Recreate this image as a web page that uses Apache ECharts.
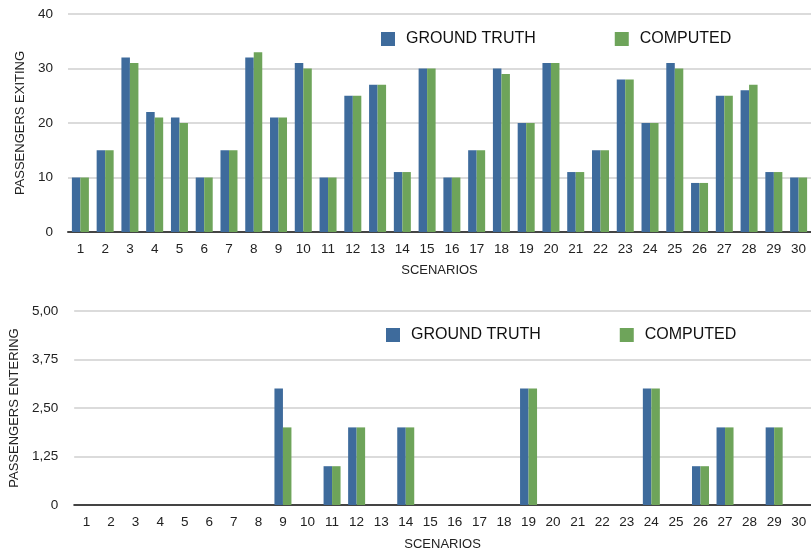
<!DOCTYPE html>
<html>
<head>
<meta charset="utf-8">
<script src="https://cdn.jsdelivr.net/npm/echarts@6/dist/echarts.min.js"></script>
<style>html,body{margin:0;padding:0;background:#fff;}#c{width:811px;height:552px;}</style>
</head>
<body>
<div id="c"></div>
<script>
const scenarios = ['1','2','3','4','5','6','7','8','9','10','11','12','13','14','15','16','17','18','19','20','21','22','23','24','25','26','27','28','29','30'];
const exitingTruth =    [10,15,32,22,21,10,15,32,21,31,10,25,27,11,30,10,15,30,20,31,11,15,28,20,31, 9,25,26,11,10];
const exitingComputed = [10,15,31,21,20,10,15,33,21,30,10,25,27,11,30,10,15,29,20,31,11,15,28,20,30, 9,25,27,11,10];
const enteringTruth =    [0,0,0,0,0,0,0,0,3,0,1,2,0,2,0,0,0,0,3,0,0,0,0,3,0,1,2,0,2,0];
const enteringComputed = [0,0,0,0,0,0,0,0,2,0,1,2,0,2,0,0,0,0,3,0,0,0,0,3,0,1,2,0,2,0];
const seriesNames = ['GROUND TRUTH','COMPUTED'];
const topTicks = [0,10,20,30,40];
const bottomTicks = ['0','1,25','2,50','3,75','5,00'];

const FONT = '"Liberation Sans", Arial, sans-serif';
const BLUE = '#3e6b9c';
const GREEN = '#6ea45a';

const chart = echarts.init(document.getElementById('c'));
const xAxisCommon = {
  type: 'category',
  data: scenarios,
  axisTick: {show: false},
  axisLine: {lineStyle: {color: '#444', width: 2}},
  axisLabel: {color: '#222', fontSize: 13.5, fontFamily: FONT, margin: 10, interval: 0},
  nameLocation: 'middle',
  nameTextStyle: {color: '#222', fontSize: 13, fontFamily: FONT}
};
const yAxisCommon = {
  type: 'value',
  min: 0,
  axisLine: {show: false},
  axisTick: {show: false},
  splitLine: {lineStyle: {color: '#cfcfcf', width: 1.5}},
  axisLabel: {color: '#222', fontSize: 13.5, fontFamily: FONT},
  nameLocation: 'middle',
  nameRotate: 90,
  nameTextStyle: {color: '#222', fontSize: 13, fontFamily: FONT}
};
const barCommon = {type: 'bar', barWidth: 8.5, barGap: '0%', animation: false};
const legendCommon = {
  itemWidth: 14, itemHeight: 14, itemGap: 79, icon: 'rect',
  textStyle: {color: '#111', fontSize: 16, fontFamily: FONT, padding: [0,0,0,6]},
  data: seriesNames, selectedMode: false
};

chart.setOption({
  animation: false,
  color: [BLUE, GREEN],
  legend: [
    Object.assign({left: 376, top: 26}, legendCommon),
    Object.assign({left: 381, top: 322}, legendCommon)
  ],
  grid: [
    {left: 68, top: 14, width: 744, height: 218},
    {left: 73, top: 311, width: 744, height: 197}
  ],
  xAxis: [
    Object.assign({}, xAxisCommon, {gridIndex: 0, name: 'SCENARIOS', nameGap: 32}),
    Object.assign({}, xAxisCommon, {gridIndex: 1, name: 'SCENARIOS', nameGap: 33})
  ],
  yAxis: [
    Object.assign({}, yAxisCommon, {gridIndex: 0, max: 40, interval: 10, name: 'PASSENGERS EXITING', nameGap: 39,
      axisLabel: Object.assign({}, yAxisCommon.axisLabel, {margin: 15, formatter: v => String(v)})}),
    Object.assign({}, yAxisCommon, {gridIndex: 1, max: 5, interval: 1.25, name: 'PASSENGERS ENTERING', nameGap: 49,
      axisLabel: Object.assign({}, yAxisCommon.axisLabel, {margin: 16, formatter: v => bottomTicks[Math.round(v / 1.25)]})})
  ],
  series: [
    Object.assign({}, barCommon, {name: seriesNames[0], xAxisIndex: 0, yAxisIndex: 0, data: exitingTruth, itemStyle: {color: BLUE}}),
    Object.assign({}, barCommon, {name: seriesNames[1], xAxisIndex: 0, yAxisIndex: 0, data: exitingComputed, itemStyle: {color: GREEN}}),
    Object.assign({}, barCommon, {name: seriesNames[0], xAxisIndex: 1, yAxisIndex: 1, data: enteringTruth, itemStyle: {color: BLUE}}),
    Object.assign({}, barCommon, {name: seriesNames[1], xAxisIndex: 1, yAxisIndex: 1, data: enteringComputed, itemStyle: {color: GREEN}})
  ]
});
</script>
</body>
</html>
